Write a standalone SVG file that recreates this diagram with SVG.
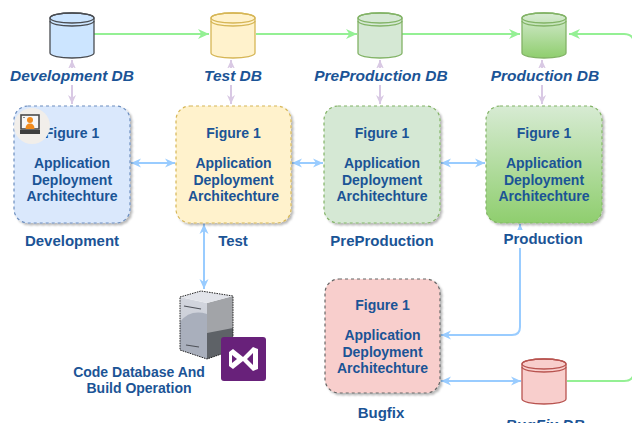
<svg xmlns="http://www.w3.org/2000/svg" width="632" height="423" viewBox="0 0 632 423">
  <style>
    .t { font-family: "Liberation Sans", Arial, sans-serif; font-weight: bold; fill: #1B5496; text-anchor: middle; }
    .box { font-size: 14px; }
    .cap { font-size: 15px; }
    .db { font-size: 15.5px; font-style: italic; }
    .frame { stroke-width: 1.2; stroke-dasharray: 3 3; filter: url(#shadow); }
    .green { fill: none; stroke: #94F094; stroke-width: 2; }
    .blue { fill: none; stroke: #99CCFF; stroke-width: 2; }
    .purple { fill: none; stroke: #D9C9E4; stroke-width: 2; }
    .bg { fill: #FFFFFF; }
  </style>
  <defs>
    <filter id="shadow" x="-10%" y="-10%" width="130%" height="130%">
      <feDropShadow dx="2" dy="2" stdDeviation="1.2" flood-color="#000" flood-opacity="0.28"/>
    </filter>
    <linearGradient id="gProd" x1="0" y1="0" x2="0" y2="1">
      <stop offset="0" stop-color="#D7EBD3"/>
      <stop offset="1" stop-color="#8FCE6E"/>
    </linearGradient>
    <linearGradient id="gSrvL" x1="0" y1="0" x2="0" y2="1">
      <stop offset="0" stop-color="#D3D6DE"/>
      <stop offset="1" stop-color="#C2C6D0"/>
    </linearGradient>
    <marker id="mGreen" viewBox="0 0 10 10" refX="10" refY="5" markerWidth="11" markerHeight="11" markerUnits="userSpaceOnUse" orient="auto-start-reverse">
      <path d="M0,0.5 L10,5 L0,9.5 L3,5 Z" fill="#94F094"/>
    </marker>
    <marker id="mBlue" viewBox="0 0 10 10" refX="10" refY="5" markerWidth="10" markerHeight="10" markerUnits="userSpaceOnUse" orient="auto-start-reverse">
      <path d="M0,0.5 L10,5 L0,9.5 L3,5 Z" fill="#99CCFF"/>
    </marker>
    <marker id="mPurple" viewBox="0 0 10 10" refX="10" refY="5" markerWidth="9" markerHeight="9" markerUnits="userSpaceOnUse" orient="auto-start-reverse">
      <path d="M0,0.5 L10,5 L0,9.5 L3,5 Z" fill="#D9C9E4"/>
    </marker>
    <!-- datastore cylinder, 44 x 45 -->
    <path id="cylBody" d="M0,5 A22,5 0 0 1 44,5 V40 A22,5 0 0 1 0,40 Z"/>
    <path id="cylRim" d="M0,5 A22,5 0 0 1 44,5 A22,5 0 0 1 0,5 Z M0,8 A22,5 0 0 0 44,8" fill="none"/>
  </defs>

  <rect width="632" height="423" fill="#FFFFFF"/>

  <!-- connectors -->
  <g id="connectors">
    <path class="green" d="M94,34 H209" marker-end="url(#mGreen)"/>
    <path class="green" d="M256,34 H357" marker-end="url(#mGreen)"/>
    <path class="green" d="M402,34 H520" marker-end="url(#mGreen)"/>
    <path class="green" d="M567,381 H624 Q634,381 634,371 V44 Q634,34 624,34 H569" marker-end="url(#mGreen)"/>

    <path class="purple" d="M72,60 V104" marker-start="url(#mPurple)" marker-end="url(#mPurple)"/>
    <path class="purple" d="M231,60 V104" marker-start="url(#mPurple)" marker-end="url(#mPurple)"/>
    <path class="purple" d="M380,60 V104" marker-start="url(#mPurple)" marker-end="url(#mPurple)"/>
    <path class="purple" d="M542,60 V104" marker-start="url(#mPurple)" marker-end="url(#mPurple)"/>

    <path class="blue" d="M131,163 H175" marker-start="url(#mBlue)" marker-end="url(#mBlue)"/>
    <path class="blue" d="M292,163 H323" marker-start="url(#mBlue)" marker-end="url(#mBlue)"/>
    <path class="blue" d="M441,163 H485" marker-start="url(#mBlue)" marker-end="url(#mBlue)"/>
    <path class="blue" d="M204,224 V289" marker-start="url(#mBlue)" marker-end="url(#mBlue)"/>
    <path class="blue" d="M520,224 V327 Q520,335 512,335 H441" marker-start="url(#mBlue)" marker-end="url(#mBlue)"/>
    <path class="blue" d="M441,381 H521" marker-start="url(#mBlue)" marker-end="url(#mBlue)"/>
  </g>

  <!-- databases -->
  <g id="devDB">
    <g transform="translate(50,13)" fill="#CCE5FF" stroke="#4A4D52" stroke-width="1.3">
      <use href="#cylBody"/><use href="#cylRim"/>
    </g>
    <rect class="bg" x="9" y="68" width="127" height="17"/>
    <text class="t db" x="72" y="81">Development DB</text>
  </g>
  <g id="testDB">
    <g transform="translate(211,13)" fill="#FFF2CC" stroke="#D6B656" stroke-width="1.3">
      <use href="#cylBody"/><use href="#cylRim"/>
    </g>
    <rect class="bg" x="203" y="68" width="60" height="17"/>
    <text class="t db" x="233" y="81">Test DB</text>
  </g>
  <g id="preprodDB">
    <g transform="translate(358,13)" fill="#D5E8D4" stroke="#82B366" stroke-width="1.3">
      <use href="#cylBody"/><use href="#cylRim"/>
    </g>
    <rect class="bg" x="314" y="68" width="134" height="17"/>
    <text class="t db" x="381" y="81">PreProduction DB</text>
  </g>
  <g id="prodDB">
    <g transform="translate(522,13)" fill="url(#gProd)" stroke="#82B366" stroke-width="1.3">
      <use href="#cylBody"/><use href="#cylRim"/>
    </g>
    <rect class="bg" x="490" y="68" width="110" height="17"/>
    <text class="t db" x="545" y="81">Production DB</text>
  </g>
  <g id="bugfixDB">
    <g transform="translate(522,359)" fill="#F8CECC" stroke="#B85450" stroke-width="1.3">
      <use href="#cylBody"/><use href="#cylRim"/>
    </g>
    <text class="t db" x="545" y="430">BugFix DB</text>
  </g>

  <!-- environments -->
  <g id="development">
    <rect class="frame" x="14" y="106" width="116" height="117" rx="14" fill="#DAE8FC" stroke="#6C8EBF"/>
    <text class="t box" x="72" y="138">Figure 1</text>
    <text class="t box" x="72" y="168">Application</text>
    <text class="t box" x="72" y="185">Deployment</text>
    <text class="t box" x="72" y="201">Architechture</text>
    <rect class="bg" x="18" y="232" width="108" height="18"/>
    <text class="t cap" x="72" y="246">Development</text>
    <!-- workstation badge -->
    <g id="devIcon">
      <circle cx="32" cy="126" r="18" fill="#F1EEEA"/>
      <rect x="21" y="115" width="18" height="14" fill="#F7F7F7" stroke="#4B4B4B" stroke-width="1.6"/>
      <circle cx="30" cy="120" r="3" fill="#F28C1E"/>
      <path d="M25.5,129 Q25.5,123.5 30,123.5 Q34.5,123.5 34.5,129 Z" fill="#F28C1E"/>
      <rect x="20" y="130" width="20" height="4" fill="#3E3E3E"/>
      <rect x="23" y="117" width="2" height="1" fill="#888"/>
    </g>
  </g>

  <g id="test">
    <rect class="frame" x="176" y="106" width="115" height="117" rx="14" fill="#FFF2CC" stroke="#D6B656"/>
    <text class="t box" x="233.5" y="138">Figure 1</text>
    <text class="t box" x="233.5" y="168">Application</text>
    <text class="t box" x="233.5" y="185">Deployment</text>
    <text class="t box" x="233.5" y="201">Architechture</text>
    <text class="t cap" x="233" y="246">Test</text>
  </g>

  <g id="preproduction">
    <rect class="frame" x="324" y="106" width="116" height="117" rx="14" fill="#D5E8D4" stroke="#82B366"/>
    <text class="t box" x="382" y="138">Figure 1</text>
    <text class="t box" x="382" y="168">Application</text>
    <text class="t box" x="382" y="185">Deployment</text>
    <text class="t box" x="382" y="201">Architechture</text>
    <text class="t cap" x="382" y="246">PreProduction</text>
  </g>

  <g id="production">
    <rect class="frame" x="486" y="106" width="116" height="117" rx="14" fill="url(#gProd)" stroke="#82B366"/>
    <text class="t box" x="544" y="138">Figure 1</text>
    <text class="t box" x="544" y="168">Application</text>
    <text class="t box" x="544" y="185">Deployment</text>
    <text class="t box" x="544" y="201">Architechture</text>
    <rect class="bg" x="500" y="230" width="86" height="18"/>
    <text class="t cap" x="543" y="244">Production</text>
  </g>

  <g id="bugfix">
    <rect class="frame" x="325" y="279" width="115" height="114" rx="14" fill="#F8CECC" stroke="#666666"/>
    <text class="t box" x="382.5" y="310">Figure 1</text>
    <text class="t box" x="382.5" y="340">Application</text>
    <text class="t box" x="382.5" y="357">Deployment</text>
    <text class="t box" x="382.5" y="373">Architechture</text>
    <text class="t cap" x="381" y="418">Bugfix</text>
  </g>

  <g id="codeBuild">
    <!-- server block -->
    <path d="M180,297 L207,303 V359 L180,350 Z" fill="url(#gSrvL)"/>
    <path d="M180,322 Q190,309 207,314 V359 L180,350 Z" fill="#A9AFBC"/>
    <path d="M207,303 L233,296 V350 L207,359 Z" fill="#A2A4A8"/>
    <path d="M207,333 L233,328 V350 L207,359 Z" fill="#5E6267"/>
    <path d="M180,297 L201,291 L233,296 L207,303 Z" fill="#E2E4EA"/>
    <path d="M184,306 L201,309" stroke="#4E5158" stroke-width="1.2"/>
    <path d="M186,345 L199,347" stroke="#4E5158" stroke-width="1.2"/>
    <path d="M180,297 L201,291 L233,296 V350 L207,359 L180,350 Z" fill="none" stroke="#222" stroke-width="1" stroke-dasharray="1.5 1"/>
    <!-- Visual Studio badge -->
    <rect x="221" y="337" width="45" height="44" rx="3" fill="#68217A"/>
    <path fill="#FFFFFF" fill-rule="evenodd" d="M229,352 L233,349 L243,357 L253,347 L258,349 V369 L253,371 L243,361 L233,369 L229,366 Z M232,355 L237,359 L232,363 Z M253,353 V365 L247,359 Z"/>
    <text class="t box" x="139" y="377">Code Database And</text>
    <text class="t box" x="139" y="393">Build Operation</text>
  </g>
</svg>
